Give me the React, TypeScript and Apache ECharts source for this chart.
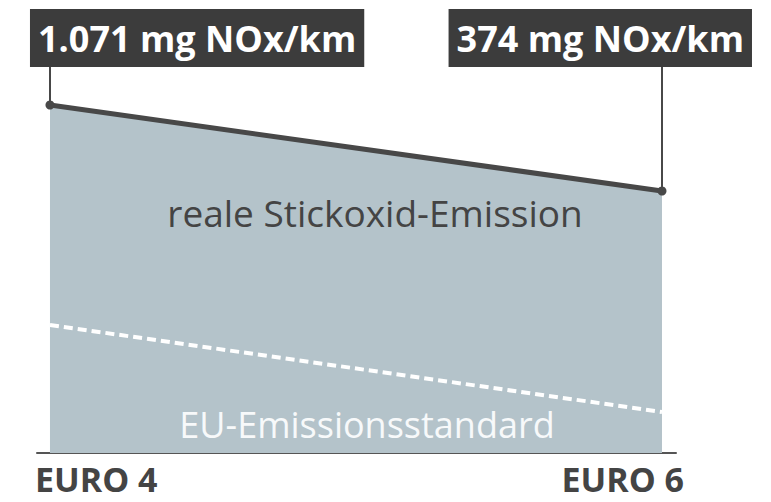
import React, { useEffect, useRef } from "react";
import * as echarts from "echarts";

// Schematic heights of the two emission levels as drawn (not to scale)
const categories = ["EURO 4", "EURO 6"];
const realEmission = [348, 262];
const euStandard = [128, 41];
const realLabels = ["1.071 mg NOx/km", "374 mg NOx/km"];
const realTitle = "reale Stickoxid-Emission";
const euTitle = "EU-Emissionsstandard";
const labelBoxLevel = 386;

const X_MIN = -0.0212;
const X_MAX = 1.0229;

export default function App() {
  const ref = useRef<HTMLDivElement>(null);
  useEffect(() => {
    if (!ref.current) return;
    const chart = echarts.init(ref.current, null, { renderer: "svg" });
    const font = "'Open Sans', 'Noto Sans', sans-serif";
    const axisText = {
      color: "#444444",
      fontFamily: font,
      fontWeight: "bold",
      fontSize: 34,
      lineHeight: 30,
    };
    chart.setOption({
      animation: false,
      backgroundColor: "#ffffff",
      grid: { left: 37, right: 95, top: 53, bottom: 49 },
      xAxis: {
        type: "value",
        min: X_MIN,
        max: X_MAX,
        splitLine: { show: false },
        axisTick: { show: false },
        axisLine: { show: true, onZero: false, lineStyle: { color: "#555555", width: 2 } },
        axisLabel: {
          customValues: [X_MIN, X_MAX],
          alignMinLabel: "left",
          alignMaxLabel: "right",
          margin: 11,
          formatter: (v: number) =>
            v < 0.5 ? `{l|${categories[0]}}` : `{r|${categories[1]}}`,
          ...axisText,
          rich: {
            l: { ...axisText, padding: [0, 0, 0, -2] },
            r: { ...axisText, padding: [0, -8, 0, 0] },
          },
        },
      },
      yAxis: {
        type: "value",
        min: 0,
        max: 400,
        show: false,
        splitLine: { show: false },
      },
      series: [
        {
          type: "line",
          data: realEmission.map((v, i) => [i, v]),
          symbol: "circle",
          symbolSize: 9,
          showSymbol: true,
          z: 3,
          lineStyle: { color: "#484848", width: 5 },
          itemStyle: { color: "#484848" },
          areaStyle: { color: "#b4c3ca", opacity: 1 },
          label: {
            show: true,
            position: "top",
            formatter: (p: any) => realLabels[p.dataIndex],
            color: "#ffffff",
            fontFamily: font,
            fontWeight: "bold",
            fontSize: 36,
            lineHeight: 40,
            backgroundColor: "#3c3c3c",
            padding: [9, 8, 9, 8],
          },
          labelLayout: (params: any) => {
            const cx = params.rect.x + params.rect.width / 2;
            if (params.dataIndex === 0) {
              return { x: cx - 20, y: 9, align: "left", verticalAlign: "top" };
            }
            return { x: cx + 90, y: 9, align: "right", verticalAlign: "top" };
          },
          markLine: {
            silent: true,
            symbol: "none",
            label: { show: false },
            lineStyle: { color: "#484848", width: 2, type: "solid" },
            data: realEmission.map((v, i) => [
              { coord: [i, v] },
              { coord: [i, labelBoxLevel] },
            ]),
          },
        },
        {
          type: "line",
          data: euStandard.map((v, i) => [i, v]),
          symbol: "none",
          z: 4,
          lineStyle: { color: "#ffffff", width: 4, type: [9, 5] },
        },
      ],
      graphic: [
        {
          type: "text",
          x: 375,
          y: 212,
          z: 10,
          style: {
            text: realTitle,
            fill: "#444444",
            font: `37px ${font}`,
            align: "center",
            verticalAlign: "middle",
          },
        },
        {
          type: "text",
          x: 367,
          y: 424,
          z: 10,
          style: {
            text: euTitle,
            fill: "#f7f9fa",
            font: `36px ${font}`,
            align: "center",
            verticalAlign: "middle",
          },
        },
      ],
    });
    return () => chart.dispose();
  }, []);
  return (
    <div
      ref={ref}
      style={{ position: "fixed", left: 0, top: 0, width: 771, height: 502 }}
    />
  );
}
